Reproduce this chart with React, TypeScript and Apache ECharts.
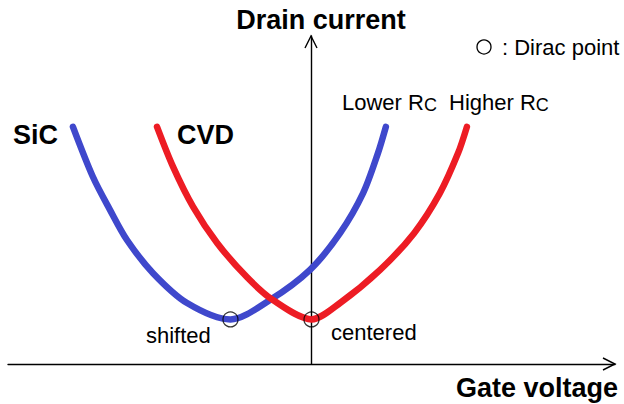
import React, { useEffect, useRef } from "react";
import * as echarts from "echarts";

// Gate voltage (arbitrary units) and drain current (arbitrary units)
const sicVoltage = [-7.86, -7.2, -6.64, -6.08, -5.22, -4.1, -2.67, -1.37, -0.05, 0.94, 1.7, 2.19, 2.45];
const sicCurrent = [7.23, 5.7, 4.7, 3.78, 2.77, 1.86, 1.36, 1.95, 2.87, 3.99, 5.21, 6.43, 7.23];
const cvdVoltage = [-5.09, -4.56, -3.9, -3.11, -2.13, -1.27, 0, 0.94, 2.26, 3.38, 4.23, 4.83, 5.12];
const cvdCurrent = [7.23, 6.01, 4.79, 3.69, 2.65, 1.95, 1.36, 1.86, 2.87, 3.99, 5.21, 6.43, 7.23];
const diracVoltage = [-2.67, 0];
const diracCurrent = [1.36, 1.36];

const BLUE = "#3f48cc";
const RED = "#ed1c24";
const FONT = "'Liberation Sans', Arial, sans-serif";

export default function App() {
  const ref = useRef<HTMLDivElement>(null);
  useEffect(() => {
    if (!ref.current) return;
    const chart = echarts.init(ref.current, null, { renderer: "svg" });
    const zip = (xs: number[], ys: number[]) => xs.map((x, i) => [x, ys[i]]);
    const rc = {
      a: { fontFamily: FONT, fontSize: 22, color: "#000" },
      b: { fontFamily: FONT, fontSize: 18, color: "#000", padding: [5, 0, 0, 0] },
    };
    chart.setOption({
      animation: false,
      backgroundColor: "#ffffff",
      grid: { left: 8, right: 9, top: 36, bottom: 40 },
      xAxis: {
        type: "value",
        min: -10,
        max: 10,
        axisLine: { show: true, lineStyle: { color: "#000", width: 1.4 } },
        axisTick: { show: false },
        axisLabel: { show: false },
        splitLine: { show: false },
      },
      yAxis: {
        type: "value",
        min: 0,
        max: 10,
        axisLine: { show: true, onZero: true, lineStyle: { color: "#000", width: 1.4 } },
        axisTick: { show: false },
        axisLabel: { show: false },
        splitLine: { show: false },
      },
      series: [
        {
          name: "SiC",
          type: "line",
          data: zip(sicVoltage, sicCurrent),
          smooth: 0.3,
          showSymbol: false,
          lineStyle: { color: BLUE, width: 6.5, cap: "round", join: "round" },
          z: 2,
        },
        {
          name: "CVD",
          type: "line",
          data: zip(cvdVoltage, cvdCurrent),
          smooth: 0.3,
          showSymbol: false,
          lineStyle: { color: RED, width: 6.5, cap: "round", join: "round" },
          z: 3,
        },
        {
          name: "Dirac point",
          type: "scatter",
          data: zip(diracVoltage, diracCurrent),
          symbol: "circle",
          symbolSize: 15,
          itemStyle: { color: "rgba(0,0,0,0)", borderColor: "#000", borderWidth: 1.2 },
          z: 5,
        },
      ],
      graphic: [
        { type: "polyline", shape: { points: [[305, 48], [311, 36], [317, 48]] }, style: { stroke: "#000", lineWidth: 1.4, fill: "none" } },
        { type: "polyline", shape: { points: [[603, 358], [615, 364], [603, 370]] }, style: { stroke: "#000", lineWidth: 1.4, fill: "none" } },
        { type: "text", x: 321, y: 20, style: { text: "Drain current", font: `bold 27px ${FONT}`, fill: "#000", textAlign: "center", textVerticalAlign: "middle" } },
        { type: "text", x: 456, y: 388, style: { text: "Gate voltage", font: `bold 27px ${FONT}`, fill: "#000", textAlign: "left", textVerticalAlign: "middle" } },
        { type: "circle", shape: { cx: 484, cy: 47, r: 7 }, style: { stroke: "#000", lineWidth: 1.3, fill: "none" } },
        { type: "text", x: 502, y: 47, style: { text: ": Dirac point", font: `22px ${FONT}`, fill: "#000", textAlign: "left", textVerticalAlign: "middle" } },
        { type: "text", x: 342, y: 102, style: { text: "{a|Lower R}{b|C}", textAlign: "left", textVerticalAlign: "middle", rich: rc } },
        { type: "text", x: 449, y: 102, style: { text: "{a|Higher R}{b|C}", textAlign: "left", textVerticalAlign: "middle", rich: rc } },
        { type: "text", x: 13, y: 135, style: { text: "SiC", font: `bold 27px ${FONT}`, fill: "#000", textAlign: "left", textVerticalAlign: "middle" } },
        { type: "text", x: 177, y: 135, style: { text: "CVD", font: `bold 27px ${FONT}`, fill: "#000", textAlign: "left", textVerticalAlign: "middle" } },
        { type: "text", x: 146, y: 335, style: { text: "shifted", font: `22px ${FONT}`, fill: "#000", textAlign: "left", textVerticalAlign: "middle" } },
        { type: "text", x: 331, y: 332, style: { text: "centered", font: `22px ${FONT}`, fill: "#000", textAlign: "left", textVerticalAlign: "middle" } },
      ],
    });
    return () => chart.dispose();
  }, []);
  return <div ref={ref} style={{ width: 624, height: 404, position: "absolute", left: 0, top: 0 }} />;
}
